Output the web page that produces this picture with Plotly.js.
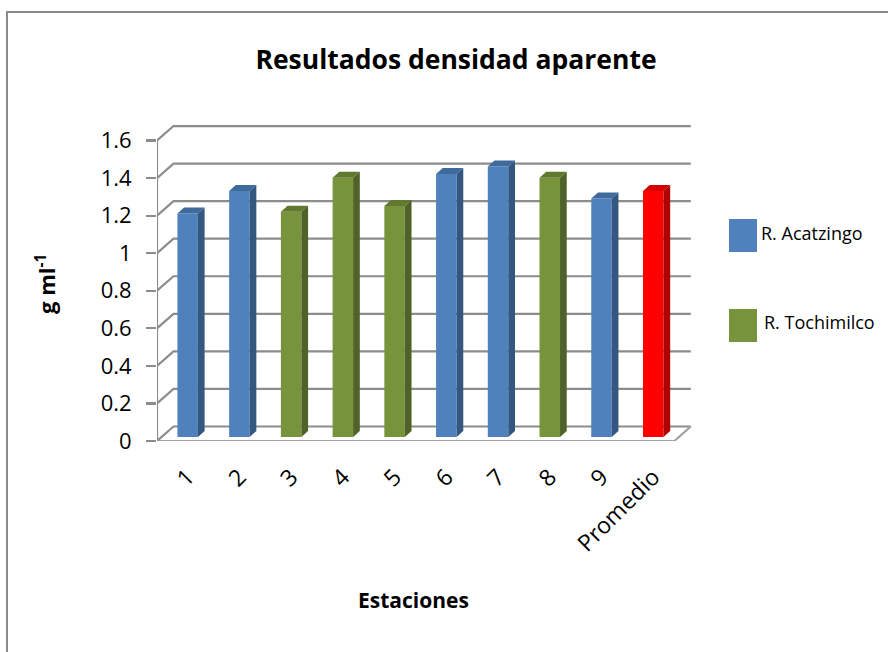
<!DOCTYPE html>
<html>
<head>
<meta charset="utf-8">
<script src="https://cdn.plot.ly/plotly-3.0.1.min.js"></script>
<style>
  html, body { margin: 0; padding: 0; background: #ffffff; }
  #chart { width: 888px; height: 652px; }
</style>
</head>
<body>
<div id="chart"></div>
<script>
// ---- Data ----
const categorias = ['1', '2', '3', '4', '5', '6', '7', '8', '9', 'Promedio'];
const densidad = [1.19, 1.31, 1.20, 1.38, 1.23, 1.40, 1.44, 1.38, 1.27, 1.31];
const rio = ['R. Acatzingo', 'R. Acatzingo', 'R. Tochimilco', 'R. Tochimilco', 'R. Tochimilco',
             'R. Acatzingo', 'R. Acatzingo', 'R. Tochimilco', 'R. Acatzingo', 'Promedio'];
const yTicks = [0, 0.2, 0.4, 0.6, 0.8, 1, 1.2, 1.4, 1.6];
const yTickText = ['0', '0.2', '0.4', '0.6', '0.8', '1', '1.2', '1.4', '1.6'];
const seriesNames = ['R. Acatzingo', 'R. Tochimilco', 'Promedio'];
const legendNames = ['R. Acatzingo', 'R. Tochimilco'];

// ---- Styles ----
const colFront = {'R. Acatzingo': '#4F81BD', 'R. Tochimilco': '#77933C', 'Promedio': '#FF0000'};
const colTop   = {'R. Acatzingo': '#3F6A9C', 'R. Tochimilco': '#61792F', 'Promedio': '#D60000'};
const colSide  = {'R. Acatzingo': '#34577F', 'R. Tochimilco': '#4F6228', 'Promedio': '#B00000'};
const FONT = 'Open Sans, Noto Sans, DejaVu Sans, sans-serif';
const GRID = '#8c8c8c';

// geometry (pixel layout)
const W = 888, H = 652;
const M = {l: 157, r: 193, t: 118, b: 211};
const plotW = W - M.l - M.r, plotH = H - M.t - M.b;
const xRange = [-0.5, 9.9], yRange = [0, 1.72];
const pxPerX = plotW / (xRange[1] - xRange[0]);
const pxPerY = plotH / (yRange[1] - yRange[0]);
const px = p => (p - M.l) / plotW;
const py = p => (H - M.b - p) / plotH;

// 3-D look offsets (in data units)
const wallDX = 16.5 / pxPerX, wallDY = 14.5 / pxPerY;
const barDX = 4.8 / pxPerX, barBase = 4 / pxPerY;
const barW = 20.5 / pxPerX;
const sideDX = 6.7 / pxPerX, sideDY = 6 / pxPerY;
const xLeft = -0.5, xRightFront = categorias.length - 0.5;

const centers = categorias.map((c, i) => i + barDX);

// ---- Shapes: back wall grid, floor, front axis ----
const shapes = [];
yTicks.forEach(v => {
  shapes.push({
    type: 'path', xref: 'x', yref: 'y', layer: 'below',
    path: `M ${xLeft},${v} L ${xLeft + wallDX},${v + wallDY} L ${xRightFront + wallDX},${v + wallDY}`,
    line: {color: GRID, width: 2.2}
  });
});
shapes.push({
  type: 'path', xref: 'x', yref: 'y', layer: 'below',
  path: `M ${xLeft},0 L ${xRightFront},0 L ${xRightFront + wallDX},${wallDY}`,
  line: {color: '#a0a0a0', width: 2.2}
});
shapes.push({
  type: 'line', xref: 'x', yref: 'y', layer: 'below',
  x0: xLeft, x1: xLeft, y0: 0, y1: yTicks[yTicks.length - 1],
  line: {color: GRID, width: 2.2}
});
// chart frame
shapes.push({
  type: 'rect', xref: 'paper', yref: 'paper', layer: 'below',
  x0: px(7), x1: px(960), y0: py(12), y1: py(720),
  line: {color: '#8a8a8a', width: 2}, fillcolor: 'rgba(0,0,0,0)'
});
// legend swatches
const legendY = [[219, 252], [309, 342]];
legendNames.forEach((n, k) => {
  shapes.push({
    type: 'rect', xref: 'paper', yref: 'paper',
    x0: px(729), x1: px(757), y0: py(legendY[k][1]), y1: py(legendY[k][0]),
    line: {width: 0}, fillcolor: colFront[n]
  });
});

// ---- Traces ----
const traces = [];
seriesNames.forEach(s => {
  const idx = categorias.map((c, i) => i).filter(i => rio[i] === s);
  traces.push({
    type: 'bar', name: s, showlegend: false, hoverinfo: 'skip',
    x: idx.map(i => centers[i]), y: idx.map(i => densidad[i]),
    base: barBase, width: barW,
    marker: {color: colFront[s], line: {width: 0}}
  });
});
seriesNames.forEach(s => {
  const idx = categorias.map((c, i) => i).filter(i => rio[i] === s);
  const sx = [], sy = [], tx = [], ty = [];
  idx.forEach(i => {
    const xr = centers[i] + barW / 2, xl = centers[i] - barW / 2;
    const top = barBase + densidad[i];
    sx.push(xr, xr, xr + sideDX, xr + sideDX, xr, null);
    sy.push(barBase, top, top + sideDY, barBase + sideDY, barBase, null);
    tx.push(xl, xr, xr + sideDX, xl + sideDX, xl, null);
    ty.push(top, top, top + sideDY, top + sideDY, top, null);
  });
  traces.push({type: 'scatter', mode: 'lines', x: sx, y: sy, fill: 'toself',
    fillcolor: colSide[s], line: {width: 0, color: colSide[s]}, showlegend: false,
    hoverinfo: 'skip', cliponaxis: false});
  traces.push({type: 'scatter', mode: 'lines', x: tx, y: ty, fill: 'toself',
    fillcolor: colTop[s], line: {width: 0, color: colTop[s]}, showlegend: false,
    hoverinfo: 'skip', cliponaxis: false});
});

// ---- Annotations ----
const annotations = [
  {text: '<b>g ml<sup>-1</sup></b>', textangle: -90, xref: 'paper', yref: 'paper',
   x: px(45), y: py(284), xanchor: 'center', yanchor: 'middle', showarrow: false,
   font: {family: FONT, size: 22, color: '#000'}},
  {text: '<b>Estaciones</b>', xref: 'paper', yref: 'paper',
   x: px(413), y: py(600), xanchor: 'center', yanchor: 'middle', showarrow: false,
   font: {family: FONT, size: 21, color: '#000'}}
];
const legendTextX = [759, 762];
const legendTextY = [233, 322];
legendNames.forEach((n, k) => {
  annotations.push({text: n, xref: 'paper', yref: 'paper',
    x: px(legendTextX[k]), y: py(legendTextY[k]), xanchor: 'left', yanchor: 'middle',
    showarrow: false, font: {family: FONT, size: 18, color: '#000'}});
});

const layout = {
  width: W, height: H, autosize: false,
  margin: {l: M.l, r: M.r, t: M.t, b: M.b, pad: 0},
  paper_bgcolor: '#ffffff', plot_bgcolor: 'rgba(0,0,0,0)',
  showlegend: false, barmode: 'overlay',
  title: {text: '<b>Resultados densidad aparente</b>', xref: 'container', yref: 'container',
          x: 456 / W, y: 1 - 60 / H, xanchor: 'center', yanchor: 'middle',
          font: {family: FONT, size: 26.5, color: '#000'}},
  xaxis: {range: xRange, tickmode: 'array', tickvals: centers, ticktext: categorias,
          tickangle: -45, showgrid: false, zeroline: false, showline: false, ticks: '',
          ticklabelstandoff: 17, automargin: false, fixedrange: true,
          tickfont: {family: FONT, size: 23, color: '#000'}},
  yaxis: {range: yRange, tickmode: 'array', tickvals: yTicks, ticktext: yTickText,
          showgrid: false, zeroline: false, showline: false,
          ticks: 'outside', ticklen: 10, tickwidth: 2.2, tickcolor: GRID,
          ticklabelstandoff: 10, automargin: false, fixedrange: true,
          tickfont: {family: FONT, size: 22, color: '#000'}},
  shapes: shapes, annotations: annotations
};

Plotly.newPlot('chart', traces, layout, {displayModeBar: false, staticPlot: true});
</script>
</body>
</html>
